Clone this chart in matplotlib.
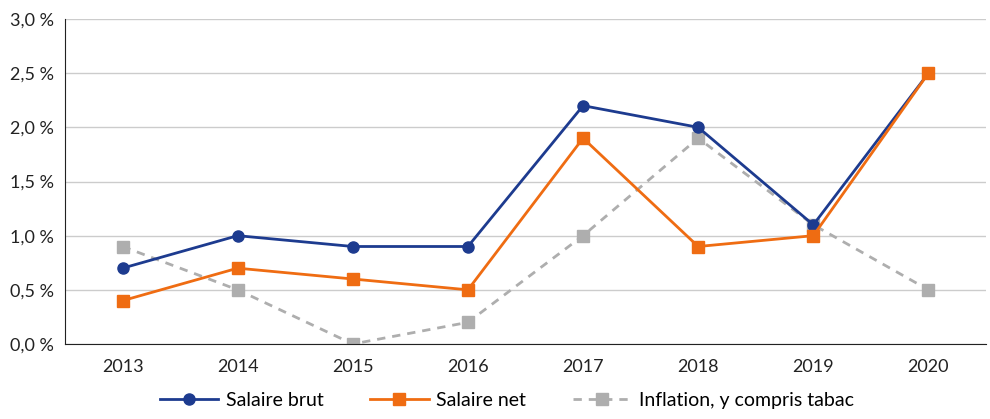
import matplotlib.pyplot as plt
from matplotlib.ticker import FuncFormatter

years = ['2013', '2014', '2015', '2016', '2017', '2018', '2019', '2020']
salaire_brut = [0.7, 1.0, 0.9, 0.9, 2.2, 2.0, 1.1, 2.5]
salaire_net = [0.4, 0.7, 0.6, 0.5, 1.9, 0.9, 1.0, 2.5]
inflation = [0.9, 0.5, 0.0, 0.2, 1.0, 1.9, 1.1, 0.5]

plt.rcParams['font.family'] = ['Lato', 'DejaVu Sans']

fig = plt.figure(figsize=(9.9, 4.19), dpi=100)
ax = fig.add_axes([65 / 990, 75 / 419, 921 / 990, 325 / 419])

x = range(len(years))
ax.plot(x, salaire_brut, color='#1d3b8f', lw=2, marker='o', ms=8,
        label='Salaire brut', zorder=3)
ax.plot(x, salaire_net, color='#ef6c12', lw=2, marker='s', ms=8,
        label='Salaire net', zorder=3)
ax.plot(x, inflation, color='#aeaeae', lw=2, ls=(0, (3, 2.5)), marker='s', ms=8,
        label='Inflation, y compris tabac', zorder=2)

ax.set_xlim(-0.5, len(years) - 0.5)
ax.set_ylim(0, 3.0)
ax.set_yticks([0, 0.5, 1.0, 1.5, 2.0, 2.5, 3.0])
ax.yaxis.set_major_formatter(FuncFormatter(lambda v, p: f'{v:.1f} %'.replace('.', ',')))
ax.set_xticks(list(x))
ax.set_xticklabels(years)
ax.tick_params(axis='both', length=0, labelsize=13, colors='#222222')
ax.tick_params(axis='x', pad=11)
ax.tick_params(axis='y', pad=8)

ax.grid(axis='y', color='#cccccc', lw=1)
ax.set_axisbelow(True)
for s in ['top', 'right']:
    ax.spines[s].set_visible(False)
ax.spines['left'].set_color('#222222')
ax.spines['bottom'].set_color('#222222')

fig.legend(loc='lower center', bbox_to_anchor=(0.512, -0.017), ncol=3, frameon=False,
           fontsize=14, handlelength=3.0, columnspacing=2.4, handletextpad=0.4)

fig.savefig('out.png', dpi=100)
